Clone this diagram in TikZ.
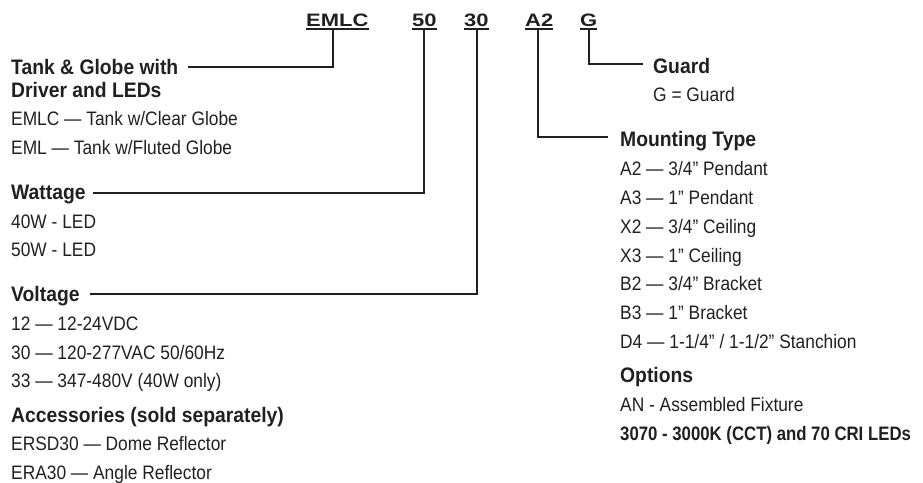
\documentclass[tikz,border=0pt]{standalone}
\usepackage{fontspec}
\setmainfont{Liberation Sans}
\newfontfamily\regf[FakeStretch=0.89]{Liberation Sans}
\newfontfamily\boldf[FakeStretch=0.92]{Liberation Sans}
\newfontfamily\hdrf[FakeStretch=1.22]{Liberation Sans}
\newfontfamily\optf[FakeStretch=0.86]{Liberation Sans}
\definecolor{ink}{HTML}{231F20}
\tikzset{
  reg/.style={anchor=base west, inner sep=0pt, text=ink, font=\regf\fontsize{19.5}{20}\selectfont},
  ttl/.style={anchor=base west, inner sep=0pt, text=ink, font=\boldf\bfseries\fontsize{21}{22}\selectfont},
  optb/.style={anchor=base west, inner sep=0pt, text=ink, font=\optf\bfseries\fontsize{19.5}{20}\selectfont},
  code/.style={anchor=base west, inner sep=0pt, text=ink, font=\hdrf\bfseries\fontsize{18}{19}\selectfont},
  conn/.style={draw=ink, line width=2pt},
  uline/.style={draw=ink, line width=1.5pt},
}
\begin{document}
\begin{tikzpicture}[x=1pt,y=-1pt]
\useasboundingbox (0,0) rectangle (923,482);

% header codes
\node[code] (cE) at (306,26) {EMLC};
\node[code] (c50) at (412,26) {50};
\node[code] (c30) at (464,26) {30};
\node[code] (cA) at (525,26) {A2};
\node[code] (cG) at (580,26) {G};
\foreach \n in {cE,c50,c30,cA,cG}{
  \draw[uline] ([yshift=-3pt]\n.base west) -- ([yshift=-3pt]\n.base east);
}

% left column
\node[ttl] (tTank) at (11,74.5) {Tank \& Globe with};
\node[ttl] (tDrv) at (11,97.5) {Driver and LEDs};
\node[reg] (e1) at (11,125) {EMLC — Tank w/Clear Globe};
\node[reg] (e2) at (11,154) {EML — Tank w/Fluted Globe};

\node[ttl] (tWat) at (11,199.5) {Wattage};
\node[reg] (w1) at (11,228) {40W - LED};
\node[reg] (w2) at (11,256.5) {50W - LED};

\node[ttl] (tVol) at (11,301.5) {Voltage};
\node[reg] (v1) at (11,330) {12 — 12-24VDC};
\node[reg] (v2) at (11,359) {30 — 120-277VAC 50/60Hz};
\node[reg] (v3) at (11,387.5) {33 — 347-480V (40W only)};

\node[ttl] (tAcc) at (11,422.5) {Accessories (sold separately)};
\node[reg] (a1) at (11,450.5) {ERSD30 — Dome Reflector};
\node[reg] (a2) at (11,479) {ERA30 — Angle Reflector};

% right column
\node[ttl] (tGrd) at (653,73.5) {Guard};
\node[reg] (g1) at (653,101.5) {G = Guard};

\node[ttl] (tMnt) at (620,146.5) {Mounting Type};
\node[reg] (m1) at (620,175) {A2 — 3/4” Pendant};
\node[reg] (m2) at (620,204) {A3 — 1” Pendant};
\node[reg] (m3) at (620,233) {X2 — 3/4” Ceiling};
\node[reg] (m4) at (620,262) {X3 — 1” Ceiling};
\node[reg] (m5) at (620,290.5) {B2 — 3/4” Bracket};
\node[reg] (m6) at (620,319) {B3 — 1” Bracket};
\node[reg] (m7) at (620,348) {D4 — 1-1/4” / 1-1/2” Stanchion};

\node[ttl] (tOpt) at (620,382.5) {Options};
\node[reg] (o1) at (620,411) {AN - Assembled Fixture};
\node[optb] (o2) at (620,440) {3070 - 3000K (CCT) and 70 CRI LEDs};

% connectors
\coordinate (vE) at (333,29);   \coordinate (hE) at (188,66.5);
\coordinate (v50) at (424,29);  \coordinate (h50) at (93,192.5);
\coordinate (v30) at (477,29);  \coordinate (h30) at (90,293.5);
\coordinate (vA) at (537.5,29); \coordinate (hA) at (608,137);
\coordinate (vG) at (589,29);   \coordinate (hG) at (643,63.5);
\draw[conn] (vE) |- (hE);
\draw[conn] (v50) |- (h50);
\draw[conn] (v30) |- (h30);
\draw[conn] (vA) |- (hA);
\draw[conn] (vG) |- (hG);
\end{tikzpicture}
\end{document}
